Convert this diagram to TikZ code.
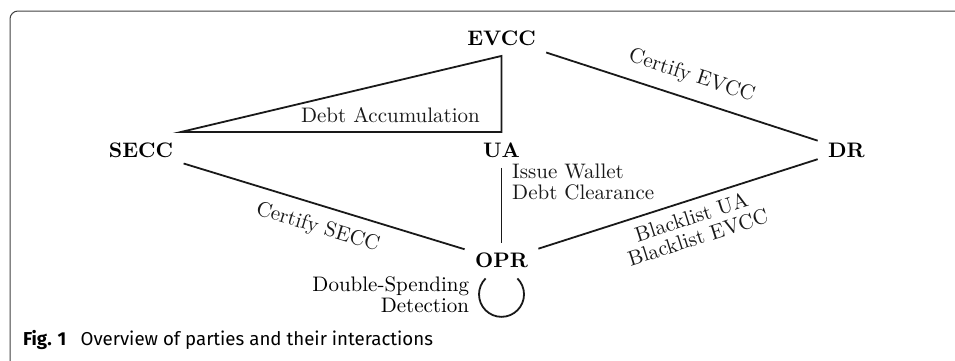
\documentclass[tikz,border=0pt]{standalone}
\usepackage{fontspec}
\newfontfamily\capfont{Fira Sans}
\begin{document}
\tikzset{
  party/.style={font=\bfseries, inner sep=4.8pt, scale=2.1},
  lbl/.style={scale=2.1, font=\fontsize{10}{10}\selectfont},
  conn/.style={line width=1.8pt, black!90},
  framestyle/.style={line width=1pt, black!75, rounded corners=8pt}
}
\begin{tikzpicture}[x=1pt,y=1pt]
\useasboundingbox (0,0) rectangle (955,-360);
\draw[framestyle] (10,-372) -- (10,-11) -- (970,-11);
\node[party] (EVCC) at (501.5,-38) {EVCC};
\node[party] (SECC) at (141,-150.5) {SECC};
\node[party] (UA) at (501.5,-150) {UA};
\node[party] (DR) at (846.5,-150) {DR};
\node[party] (OPR) at (501.5,-260.5) {OPR};
\draw[conn] (EVCC.south) -- (UA.north) -- node[lbl, pos=0.346, above] (da) {Debt Accumulation} ([xshift=-3pt]UA.north -| SECC.east) -- cycle;
\draw[conn] (EVCC) -- node[lbl, sloped, above, pos=0.51, inner ysep=5.2pt] (ce) {Certify EVCC} (DR);
\draw[conn] (SECC) -- node[lbl, sloped, below, pos=0.5, inner ysep=5.2pt] (cs) {Certify SECC} (OPR);
\draw[conn] (OPR) -- node[lbl, sloped, below, align=center, pos=0.53] (bl) {Blacklist UA\\Blacklist EVCC} (DR);
\draw[conn] (UA) -- node[lbl, right, align=left, pos=0.19, inner xsep=4.2pt] (iw) {Issue Wallet\\Debt Clearance} (OPR);
\draw[conn] ([xshift=-15.9pt]OPR.south) arc[start angle=135, end angle=180, radius=22.5pt] coordinate (loopw) arc[start angle=180, end angle=405, radius=22.5pt];
\node[lbl, anchor=east, align=right, inner xsep=4.5pt] (dsd) at (loopw) {Double-Spending\\Detection};
\node[scale=2.1, anchor=base west, inner sep=0, font=\capfont\fontsize{8.9}{11}\selectfont] (cap) at (22.7,-345.5) {\textbf{Fig. 1}\hspace{6.8pt}Overview of parties and their interactions};
\end{tikzpicture}
\end{document}
